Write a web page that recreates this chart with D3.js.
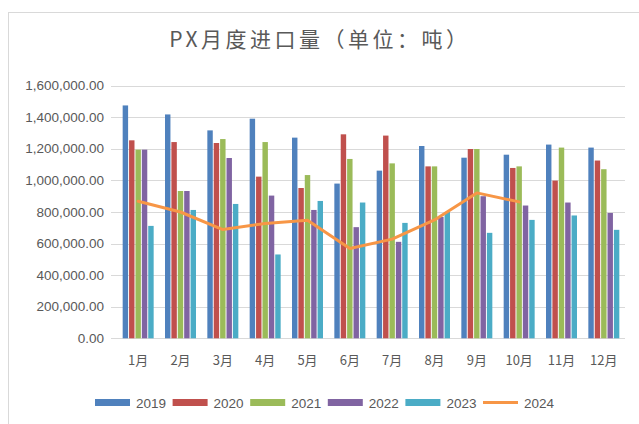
<!DOCTYPE html>
<html>
<head>
<meta charset="utf-8">
<script src="https://cdn.jsdelivr.net/npm/d3@7"></script>
<style>
  body { margin: 0; background: #fff; }
  svg { display: block; }
</style>
</head>
<body>
<div id="vis"><svg></svg></div>
<script>
// data (tonnes)
var months = ["1月","2月","3月","4月","5月","6月","7月","8月","9月","10月","11月","12月"];
var years = ["2019","2020","2021","2022","2023"];
var v2019 = [1475000,1418000,1317000,1391000,1271000,980000,1062000,1218000,1144000,1163000,1227000,1208000];
var v2020 = [1254000,1243000,1237000,1024000,952000,1292000,1284000,1089000,1199000,1079000,999000,1126000];
var v2021 = [1195000,933000,1262000,1243000,1034000,1136000,1108000,1089000,1199000,1089000,1208000,1071000];
var v2022 = [1195000,933000,1142000,904000,813000,704000,611000,769000,900000,841000,860000,794000];
var v2023 = [712000,813000,851000,531000,870000,860000,731000,800000,668000,750000,778000,687000];
var v2024 = [868000,800000,689000,727000,748000,569000,628000,750000,921000,864000,null,null];
var yTicks = [0,200000,400000,600000,800000,1000000,1200000,1400000,1600000];
var title = "PX月度进口量（单位：吨）";

var barSeries = [v2019, v2020, v2021, v2022, v2023];
var colors = ["#4F81BD","#C0504D","#9BBB59","#8064A2","#4BACC6"];
var lineColor = "#F79646";

var W = 639, H = 424;
var plot = {left: 117, right: 625, top: 85.7, bottom: 338.3};

var svg = d3.select("#vis").select("svg")
    .attr("width", W)
    .attr("height", H);

// outer chart border
svg.append("rect")
    .attr("x", 8.5).attr("y", 12.5)
    .attr("width", W + 10).attr("height", H + 10)
    .attr("fill", "none")
    .attr("stroke", "#d9d9d9");

// title
svg.append("text")
    .attr("x", 320).attr("y", 47)
    .attr("text-anchor", "middle")
    .attr("font-family", "'Noto Sans CJK SC', sans-serif")
    .attr("font-size", 21)
    .attr("letter-spacing", 3.5)
    .attr("fill", "#595959")
    .text(title);

// scales
var x0 = d3.scaleBand()
    .domain(months)
    .range([plot.left, plot.right])
    .paddingInner(0.268)
    .paddingOuter(0.134);

var x1 = d3.scaleBand()
    .domain(years)
    .range([0, x0.bandwidth()])
    .paddingInner(0.15);

var y = d3.scaleLinear()
    .domain([0, 1600000])
    .range([plot.bottom, plot.top]);

// gridlines
svg.append("g")
    .selectAll("line")
    .data(yTicks)
    .join("line")
    .attr("x1", plot.left - 6).attr("x2", plot.right)
    .attr("y1", d => Math.round(y(d)) + 0.5)
    .attr("y2", d => Math.round(y(d)) + 0.5)
    .attr("stroke", "#d9d9d9")
    .attr("stroke-width", 1);

// y axis labels
svg.append("g")
    .selectAll("text")
    .data(yTicks)
    .join("text")
    .attr("x", 104)
    .attr("y", d => y(d) + 4.5)
    .attr("text-anchor", "end")
    .attr("font-family", "'Liberation Sans', Arial, sans-serif")
    .attr("font-size", 13.5)
    .attr("fill", "#595959")
    .text(d => d3.format(",.2f")(d));

// bars
var groups = svg.append("g")
    .selectAll("g")
    .data(barSeries)
    .join("g")
    .attr("fill", (d, i) => colors[i]);

groups.each(function(series, si) {
    d3.select(this).selectAll("rect")
        .data(series)
        .join("rect")
        .attr("x", (d, i) => x0(months[i]) + x1(years[si]))
        .attr("width", x1.bandwidth())
        .attr("y", d => y(d))
        .attr("height", d => y(0) - y(d));
});

// 2024 line
var line = d3.line()
    .defined(d => d != null)
    .x((d, i) => x0(months[i]) + x0.bandwidth() / 2)
    .y(d => y(d));

svg.append("path")
    .datum(v2024)
    .attr("fill", "none")
    .attr("stroke", lineColor)
    .attr("stroke-width", 3)
    .attr("stroke-linejoin", "round")
    .attr("stroke-linecap", "round")
    .attr("d", line);

// x axis labels
svg.append("g")
    .selectAll("text")
    .data(months)
    .join("text")
    .attr("x", d => x0(d) + x0.bandwidth() / 2)
    .attr("y", 365)
    .attr("text-anchor", "middle")
    .attr("font-family", "'Noto Sans CJK SC', sans-serif")
    .attr("font-size", 13)
    .attr("fill", "#595959")
    .text(d => d);

// legend
var legendItems = years.map((yr, i) => ({name: yr, color: colors[i], type: "bar"}))
    .concat([{name: "2024", color: lineColor, type: "line"}]);

var legend = svg.append("g")
    .selectAll("g")
    .data(legendItems)
    .join("g")
    .attr("transform", (d, i) => "translate(" + (95 + i * 77.6) + ",0)");

legend.filter(d => d.type == "bar")
    .append("rect")
    .attr("x", 0).attr("y", 399)
    .attr("width", 35).attr("height", 7)
    .attr("fill", d => d.color);

legend.filter(d => d.type == "line")
    .append("line")
    .attr("x1", 0).attr("x2", 35)
    .attr("y1", 402.5).attr("y2", 402.5)
    .attr("stroke", d => d.color)
    .attr("stroke-width", 3);

legend.append("text")
    .attr("x", 41).attr("y", 407.5)
    .attr("font-family", "'Liberation Sans', Arial, sans-serif")
    .attr("font-size", 13.5)
    .attr("fill", "#595959")
    .text(d => d.name);
</script>
</body>
</html>
